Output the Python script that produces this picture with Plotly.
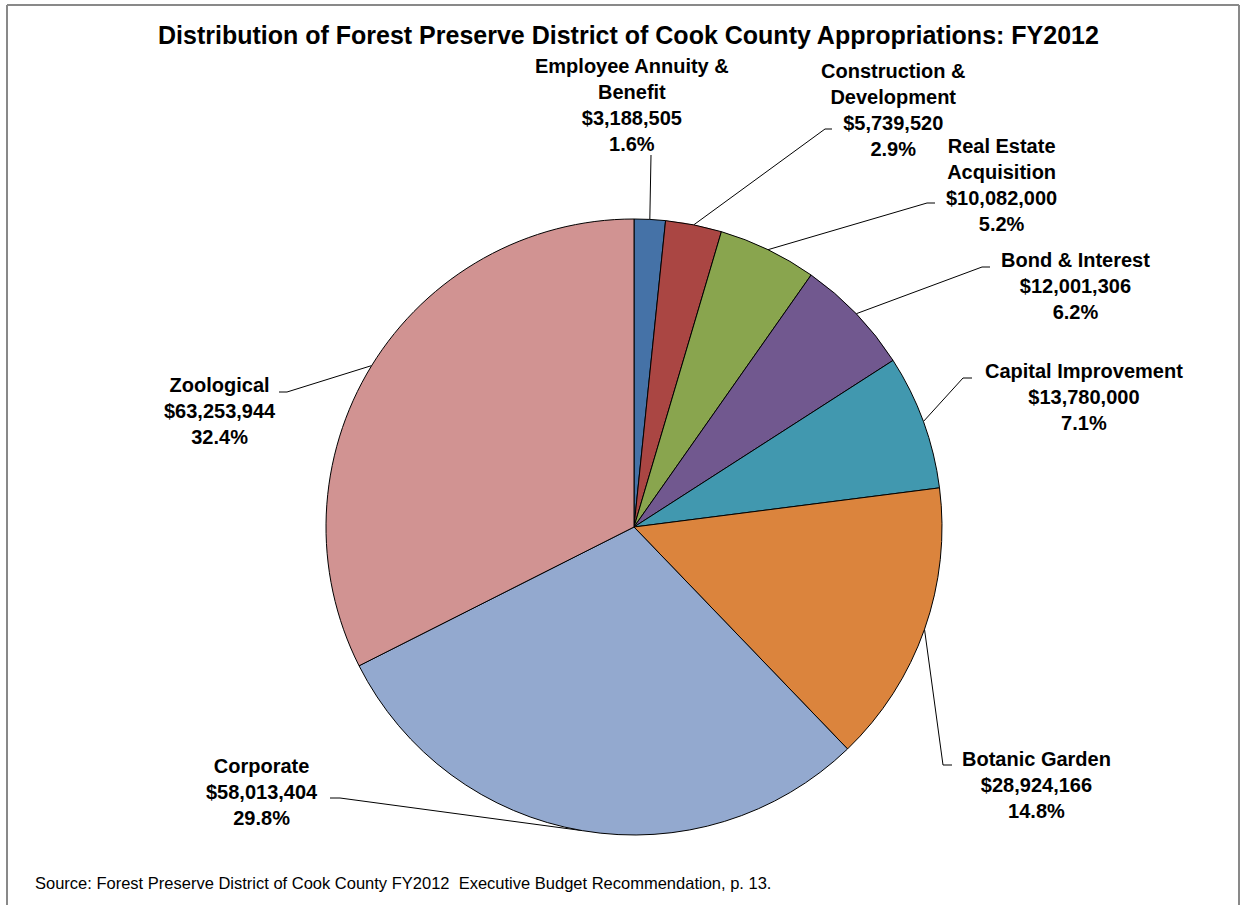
import math
import plotly.graph_objects as go

# ---- data ----
categories = ["Employee Annuity & Benefit", "Construction & Development",
              "Real Estate Acquisition", "Bond & Interest", "Capital Improvement",
              "Botanic Garden", "Corporate", "Zoological"]
values = [3188505, 5739520, 10082000, 12001306, 13780000, 28924166, 58013404, 63253944]
label_lines = [["Employee Annuity &", "Benefit"], ["Construction &", "Development"],
               ["Real Estate", "Acquisition"], ["Bond & Interest"], ["Capital Improvement"],
               ["Botanic Garden"], ["Corporate"], ["Zoological"]]
colors = ["#4572A7", "#AA4643", "#89A54E", "#71588F", "#4198AF", "#DB843D", "#93A9CF", "#D19392"]

title = "Distribution of Forest Preserve District of Cook County Appropriations: FY2012"
source = "Source: Forest Preserve District of Cook County FY2012  Executive Budget Recommendation, p. 13."

# ---- layout (pixels) ----
W, H = 1248, 905
CX, CY, R = 634, 527, 308
FS = 20
# label centre x, top y of text block
label_pos = [(632, 53), (893, 58), (1001, 133), (1075, 247), (1084, 358),
             (1036, 746), (262, 753), (220, 372)]
# leader line knee points (after the pie edge point)
leader_pts = [[(651, 155)], [(825, 129), (832, 129)], [(927, 203), (935, 203)],
              [(982, 267), (990, 267)], [(963, 378), (972, 378)],
              [(943, 765), (952, 765)], [(340, 798), (330, 798)],
              [(287, 392), (279, 392)]]

total = sum(values)
fig = go.Figure()
fig.add_trace(go.Pie(
    labels=categories, values=values, sort=False, direction="clockwise", rotation=0,
    marker=dict(colors=colors, line=dict(color="#000000", width=1)),
    textinfo="none", hoverinfo="label+value+percent", showlegend=False,
    domain=dict(x=[(CX - R) / W, (CX + R) / W], y=[1 - (CY + R) / H, 1 - (CY - R) / H]),
))

# leader lines from slice mid-angle
cum = 0
annotations = []
for i, v in enumerate(values):
    mid = (cum + v / 2) / total
    cum += v
    a = 2 * math.pi * mid
    sx = CX + R * math.sin(a)
    sy = CY - R * math.cos(a)
    xs = [sx] + [p[0] for p in leader_pts[i]]
    ys = [sy] + [p[1] for p in leader_pts[i]]
    fig.add_trace(go.Scatter(x=xs, y=ys, mode="lines", line=dict(color="#000000", width=1),
                             hoverinfo="skip", showlegend=False))
    pct = v / total * 100
    lines = label_lines[i] + [f"${v:,}", f"{pct:.1f}%"]
    txt = "<br>".join(f"<b>{s}</b>" for s in lines)
    annotations.append(dict(x=label_pos[i][0], y=label_pos[i][1], xref="x", yref="y",
                            text=txt, showarrow=False, xanchor="center", yanchor="top",
                            align="center",
                            font=dict(family="Arial, Liberation Sans", size=FS, color="#000000")))

annotations.append(dict(x=628, y=35, xref="x", yref="y", text=f"<b>{title}</b>", showarrow=False,
                        xanchor="center", yanchor="middle",
                        font=dict(family="Arial, Liberation Sans", size=25, color="#000000")))
annotations.append(dict(x=33, y=883, xref="x", yref="y", text=source, showarrow=False,
                        xanchor="left", yanchor="middle",
                        font=dict(family="Arial, Liberation Sans", size=16.5, color="#000000")))

fig.update_layout(
    width=W, height=H, margin=dict(l=0, r=0, t=0, b=0),
    paper_bgcolor="white", plot_bgcolor="rgba(0,0,0,0)",
    xaxis=dict(range=[0, W], visible=False, fixedrange=True),
    yaxis=dict(range=[H, 0], visible=False, fixedrange=True),
    annotations=annotations,
    shapes=[
        dict(type="line", xref="x", yref="y", x0=7, y0=5, x1=1239, y1=5, line=dict(color="#898989", width=2)),
        dict(type="line", xref="x", yref="y", x0=7, y0=5, x1=7, y1=910, line=dict(color="#898989", width=2)),
        dict(type="line", xref="x", yref="y", x0=1239, y0=5, x1=1239, y1=910, line=dict(color="#898989", width=2)),
    ],
)
fig.write_html("out.html")
